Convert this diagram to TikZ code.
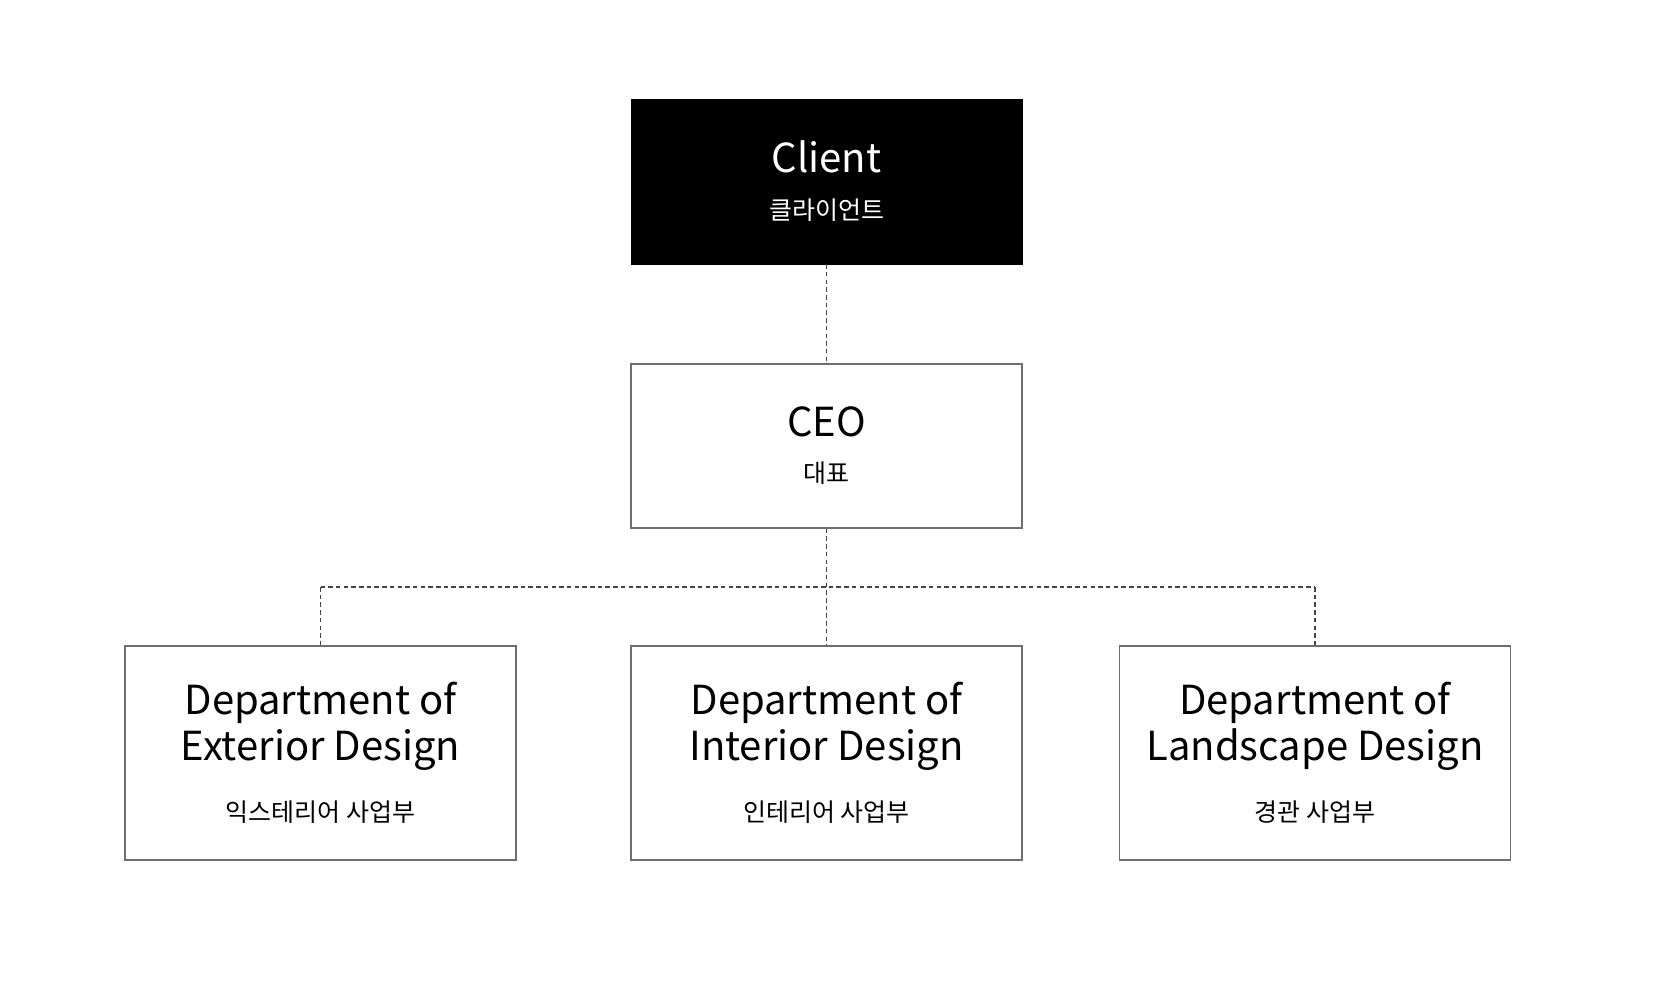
\documentclass[tikz,border=0pt]{standalone}
\usepackage{fontspec}
\setmainfont{Noto Sans CJK KR}
\usepackage{tikz}
\usetikzlibrary{calc,positioning}
\definecolor{boxgray}{HTML}{6E6E6E}
\definecolor{linegray}{HTML}{444444}

\begin{document}
\begin{tikzpicture}[x=1pt,y=-1pt]
  \tikzstyle{client} = [fill=black,draw=black,text=white,minimum width=391pt,minimum height=165pt,align=center,font=\fontsize{40}{46}\selectfont]
  \tikzstyle{ceo} = [fill=white,draw=boxgray,line width=1.5pt,text=black,minimum width=391pt,minimum height=164pt,align=center,font=\fontsize{40}{46}\selectfont]
  \tikzstyle{dept} = [fill=white,draw=boxgray,line width=1.5pt,text=black,minimum width=391pt,minimum height=214pt,align=center,font=\fontsize{40}{46}\selectfont]
  \tikzstyle{link} = [draw=linegray,line width=1.5pt,dash pattern=on 4.5pt off 3.2pt]
  \newcommand{\kor}[1]{{\fontsize{25}{30}\selectfont #1}}

  \useasboundingbox (0,0) rectangle (1654,989);

  \node[client] (Client) at (826.5,181.5) {Client\\[1pt]\kor{클라이언트}};
  \node[ceo] (CEO) at (826.5,446) {CEO\\[0pt]\kor{대표}};

  \node[dept] (Dept_0) at (320.5,753) {Department of\\Exterior Design\\[15pt]\kor{익스테리어 사업부}};
  \node[dept] (Dept_1) at (826.5,753) {Department of\\Interior Design\\[15pt]\kor{인테리어 사업부}};
  \node[dept] (Dept_2) at (1315,753) {Department of\\Landscape Design\\[15pt]\kor{경관 사업부}};

  \coordinate (branch_0) at (Dept_0.north |- 0,587);
  \coordinate (branch_2) at (Dept_2.north |- 0,587);

  \draw [link] (Client) -- (CEO);
  \draw [link] (CEO) -- (Dept_1);
  \draw [link] (branch_0) -- (branch_2);
  \draw [link] (branch_0) -- (Dept_0);
  \draw [link] (branch_2) -- (Dept_2);
\end{tikzpicture}
\end{document}
